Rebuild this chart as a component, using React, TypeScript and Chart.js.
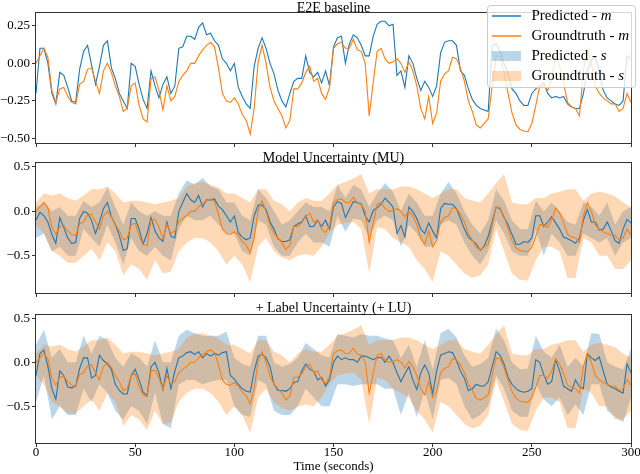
import React, { useEffect, useRef } from 'react';
import { Chart, registerables } from 'chart.js';

Chart.register(...registerables);

const FONT = '"Liberation Serif", "Times New Roman", serif';
const BLUE = '#1f77b4';
const ORANGE = '#ff7f0e';
const BLUE_FILL = 'rgba(31,119,180,0.3)';
const ORANGE_FILL = 'rgba(255,127,14,0.3)';

// time resolution (seconds) of the line series and of the band edges
const LINE_STEP = 2;
const BAND_STEP = 4;

const X_TICKS = [0, 50, 100, 150, 200, 250, 300];
const Y_TICKS_E2E = [-0.5, -0.25, 0, 0.25];
const Y_TICKS_UNC = [-0.5, 0, 0.5];

const TITLES = ['E2E baseline', 'Model Uncertainty (MU)', '+ Label Uncertainty (+ LU)'];
const X_LABEL = 'Time (seconds)';
const LEGEND = [
  { text: 'Predicted - ', sym: 'm', kind: 'line', color: BLUE },
  { text: 'Groundtruth - ', sym: 'm', kind: 'line', color: ORANGE },
  { text: 'Predicted - ', sym: 's', kind: 'patch', color: BLUE_FILL },
  { text: 'Groundtruth - ', sym: 's', kind: 'patch', color: ORANGE_FILL },
];

// Groundtruth m (shared by all panels), every 2 s
const GT_M = [
  0.0, 0.05, 0.10, 0.04, -0.18, -0.26, -0.17, -0.16, -0.22, -0.26,
  -0.27, -0.14, -0.12, -0.04, -0.03, -0.12, -0.2, -0.05, 0.0, -0.06,
  -0.15, -0.22, -0.32, -0.3, -0.15, -0.13, -0.28, -0.37, -0.39, -0.1,
  -0.09, -0.18, -0.31, -0.15, -0.25, -0.22, -0.12, -0.08, -0.05, 0.0,
  0.0, 0.05, 0.09, 0.12, 0.14, 0.11, -0.03, -0.2, -0.25, -0.26,
  -0.23, -0.27, -0.34, -0.38, -0.47, -0.3, 0.01, 0.12, 0.0, -0.16,
  -0.25, -0.3, -0.35, -0.43, -0.38, -0.17, -0.17, -0.13, -0.06, -0.02,
  -0.12, -0.1, -0.2, -0.24, -0.16, 0.1, 0.13, 0.14, 0.1, 0.1,
  0.16, 0.09, 0.08, 0.0, -0.35, -0.13, 0.08, 0.1, 0.03, 0.0,
  0.01, 0.03, 0.0, -0.06, 0.01, -0.05, -0.15, -0.3, -0.37, -0.22,
  -0.4, -0.33, -0.12, -0.07, -0.05, 0.04, 0.03, -0.03, -0.12, -0.25,
  -0.32, -0.41, -0.43, -0.4, -0.37, -0.15, 0.05, 0.04, -0.06, -0.2,
  -0.33, -0.41, -0.44, -0.45, -0.455, -0.4, -0.28, -0.15, -0.15, -0.18,
  -0.1, 0.04, -0.02, -0.13, -0.26, -0.29, -0.3, -0.35, -0.05, 0.1,
  0.0, -0.15, -0.2, -0.23, -0.25, -0.27, -0.27, -0.32, -0.3, -0.2,
  -0.26,
];

// E2E baseline predicted m, every 2 s
const E2E_M = [
  -0.2, 0.1, 0.1, 0.0, -0.2, -0.27, -0.06, -0.08, -0.16, -0.25,
  -0.26, -0.04, 0.08, 0.12, -0.01, -0.14, -0.02, 0.12, 0.15, -0.03,
  -0.1, -0.2, -0.25, -0.3, 0.0, -0.02, -0.14, -0.24, -0.3, -0.05,
  -0.15, -0.23, -0.14, -0.09, -0.2, -0.15, 0.1, 0.11, 0.18, 0.18,
  0.16, 0.24, 0.27, 0.19, 0.2, 0.15, 0.12, 0.03, 0.0, -0.05,
  0.0, -0.16, -0.22, -0.27, -0.3, -0.02, 0.1, 0.17, 0.1, 0.0,
  -0.07, -0.18, -0.25, -0.29, -0.2, -0.12, -0.1, -0.1, 0.05, -0.06,
  -0.09, -0.06, -0.13, -0.05, -0.15, 0.11, 0.17, 0.18, 0.0, 0.13,
  0.19, 0.17, 0.12, 0.05, 0.05, 0.18, 0.26, 0.28, 0.28, 0.25,
  0.26, -0.08, -0.05, -0.16, 0.05, 0.0, -0.1, -0.18, -0.12, -0.16,
  -0.22, -0.15, 0.07, 0.14, 0.15, 0.15, 0.12, -0.05, -0.08, -0.17,
  -0.24, -0.28, -0.3, -0.31, -0.32, 0.12, 0.13, 0.08, 0.0, -0.07,
  -0.17, -0.2, -0.25, -0.28, -0.28, -0.2, -0.17, -0.15, -0.13, -0.2,
  -0.23, -0.22, -0.23, -0.22, -0.27, -0.29, -0.3, -0.3, -0.2, -0.05,
  0.02, 0.04, -0.05, -0.18, -0.23, -0.25, -0.27, -0.28, -0.25, 0.05,
  0.03,
];

// MU predicted m, every 2 s
const MU_M = [
  -0.1, -0.01, -0.05, -0.12, -0.26, -0.36, -0.07, -0.18, -0.3, -0.36,
  -0.35, -0.08, 0.0, -0.02, -0.1, -0.25, -0.12, 0.03, 0.1, -0.06,
  -0.15, -0.27, -0.44, -0.42, -0.08, -0.08, -0.2, -0.37, -0.25, -0.07,
  -0.22, -0.3, -0.34, -0.12, -0.28, -0.3, 0.0, 0.1, 0.2, 0.13,
  0.1, 0.18, 0.05, 0.13, 0.13, 0.14, 0.06, 0.02, -0.05, -0.12,
  -0.05, -0.24, -0.29, -0.32, -0.3, -0.05, 0.07, 0.07, 0.02, -0.12,
  -0.2, -0.31, -0.34, -0.34, -0.32, -0.17, -0.14, -0.12, -0.05, -0.17,
  -0.17, -0.1, -0.17, -0.1, -0.2, 0.05, 0.11, 0.09, -0.07, 0.02,
  0.11, 0.1, 0.08, -0.05, -0.12, 0.01, 0.04, 0.08, 0.15, 0.1,
  0.05, -0.25, -0.16, -0.29, 0.05, 0.0, -0.08, -0.2, -0.25, -0.13,
  -0.22, -0.3, 0.03, 0.09, 0.08, 0.08, 0.03, -0.08, -0.2, -0.29,
  -0.33, -0.37, -0.44, -0.39, -0.28, -0.12, 0.05, 0.03, -0.07, -0.15,
  -0.26, -0.37, -0.37, -0.34, -0.35, -0.3, -0.05, -0.05, -0.17, -0.12,
  -0.06, -0.13, -0.2, -0.29, -0.31, -0.33, -0.36, -0.3, -0.1, 0.02,
  -0.12, -0.12, -0.21, -0.2, -0.12, -0.22, -0.33, -0.36, -0.2, -0.09,
  -0.13,
];

// +LU predicted m, every 2 s
const LU_M = [
  -0.15, 0.1, 0.14, -0.05, -0.3, -0.42, -0.1, -0.15, -0.28, -0.29,
  -0.27, -0.07, 0.05, 0.05, -0.18, -0.15, 0.08, 0.02, -0.02, -0.08,
  -0.25, -0.32, -0.36, -0.36, -0.15, -0.08, -0.2, -0.34, -0.38, -0.05,
  0.0, -0.12, -0.31, -0.07, -0.3, -0.1, 0.05, 0.07, 0.11, 0.12,
  0.09, 0.12, 0.05, 0.1, 0.07, 0.1, 0.08, 0.11, 0.12, -0.15,
  -0.19, -0.25, -0.3, -0.33, -0.34, -0.1, 0.07, 0.09, 0.05, -0.05,
  -0.25, -0.32, -0.32, -0.33, -0.3, -0.23, -0.22, -0.1, -0.02, -0.08,
  -0.1, -0.2, -0.17, -0.27, -0.2, 0.0, 0.07, 0.03, 0.05, 0.03,
  0.03, 0.0, 0.07, 0.07, 0.05, 0.03, 0.05, 0.06, 0.0, 0.07,
  0.0, -0.12, -0.22, -0.13, -0.05, -0.2, -0.31, -0.12, -0.03, -0.12,
  -0.36, -0.1, 0.08, 0.1, 0.12, 0.11, 0.02, -0.1, -0.18, -0.32,
  -0.3, -0.25, -0.27, -0.27, -0.22, -0.05, 0.12, 0.08, -0.02, -0.17,
  -0.25, -0.3, -0.33, -0.34, -0.33, -0.3, 0.03, 0.0, -0.14, -0.25,
  -0.22, 0.03, -0.1, -0.27, -0.3, -0.33, -0.2, -0.28, -0.3, 0.1,
  0.05, 0.02, 0.06, -0.1, -0.25, -0.28, -0.3, -0.33, -0.35, -0.02,
  -0.12,
];

// Groundtruth s band edges (shared), every 4 s
const GT_HI = [
  0.1, 0.2, 0.18, 0.2, 0.15, 0.12, 0.18, 0.25, 0.25, 0.28,
  0.2, 0.1, 0.12, 0.12, 0.1, 0.08, 0.1, 0.12, 0.15, 0.28,
  0.32, 0.33, 0.3, 0.27, 0.2, 0.2, 0.15, 0.1, 0.25, 0.25,
  0.12, 0.08, 0.0, 0.1, 0.15, 0.12, 0.12, 0.2, 0.3, 0.33,
  0.37, 0.42, 0.2, 0.25, 0.25, 0.25, 0.28, 0.28, 0.25, 0.2,
  0.15, 0.2, 0.25, 0.25, 0.15, 0.12, 0.1, 0.2, 0.32, 0.42,
  0.1, 0.08, 0.08, 0.15, 0.15, 0.2, 0.22, 0.25, 0.25, 0.12,
  0.2, 0.22, 0.2, 0.17, 0.1, 0.05,
];
const GT_LO = [
  -0.15, -0.25, -0.45, -0.5, -0.58, -0.58, -0.5, -0.42, -0.55, -0.35,
  -0.45, -0.72, -0.6, -0.65, -0.77, -0.55, -0.7, -0.68, -0.45, -0.35,
  -0.3, -0.3, -0.35, -0.45, -0.6, -0.5, -0.6, -0.8, -0.4, -0.3,
  -0.45, -0.52, -0.55, -0.5, -0.48, -0.5, -0.4, -0.25, -0.15, -0.13,
  -0.12, -0.2, -0.7, -0.18, -0.2, -0.3, -0.35, -0.4, -0.55, -0.65,
  -0.8, -0.45, -0.5, -0.6, -0.7, -0.75, -0.72, -0.6, -0.2, -0.45,
  -0.7, -0.77, -0.78, -0.55, -0.4, -0.4, -0.45, -0.75, -0.75, -0.3,
  -0.35, -0.5, -0.5, -0.65, -0.65, -0.55,
];

// MU predicted s band edges, every 4 s
const MU_HI = [
  0.05, 0.1, 0.0, 0.05, -0.05, -0.05, 0.12, 0.05, 0.1, 0.27,
  0.05, -0.15, 0.1, 0.0, -0.05, 0.0, -0.05, -0.05, 0.2, 0.35,
  0.3, 0.38, 0.28, 0.25, 0.1, 0.1, -0.05, -0.1, 0.25, 0.15,
  0.0, -0.15, -0.1, 0.0, 0.1, 0.05, 0.05, 0.0, 0.3, 0.15,
  0.3, 0.25, 0.05, 0.2, 0.32, 0.22, 0.0, 0.2, 0.1, -0.05,
  -0.05, 0.2, 0.33, 0.2, 0.0, -0.15, -0.25, -0.1, 0.25, 0.12,
  -0.1, -0.2, -0.2, 0.12, 0.0, 0.1, 0.0, -0.12, -0.15, 0.1,
  0.05, -0.05, 0.1, -0.15, 0.0, 0.05,
];
const MU_LO = [
  -0.3, -0.25, -0.45, -0.4, -0.5, -0.5, -0.2, -0.3, -0.4, -0.15,
  -0.35, -0.6, -0.3, -0.45, -0.5, -0.4, -0.5, -0.55, -0.2, -0.05,
  -0.1, -0.1, -0.05, -0.15, -0.25, -0.25, -0.45, -0.5, -0.1, -0.15,
  -0.4, -0.5, -0.5, -0.35, -0.25, -0.35, -0.35, -0.4, -0.05, -0.23,
  -0.08, -0.1, -0.3, -0.1, -0.05, -0.1, -0.4, -0.15, -0.25, -0.4,
  -0.4, -0.15, -0.1, -0.15, -0.35, -0.5, -0.6, -0.45, -0.1, -0.25,
  -0.45, -0.5, -0.5, -0.2, -0.5, -0.25, -0.35, -0.5, -0.5, -0.25,
  -0.3, -0.35, -0.3, -0.5, -0.35, -0.3,
];

// +LU predicted s band edges, every 4 s
const LU_HI = [
  0.2, 0.37, 0.05, 0.15, 0.0, 0.0, 0.3, 0.1, 0.3, 0.25,
  0.05, -0.05, 0.1, 0.05, -0.05, 0.25, 0.0, 0.0, 0.3, 0.37,
  0.33, 0.3, 0.3, 0.3, 0.35, 0.05, -0.02, -0.05, 0.3, 0.3,
  0.0, -0.05, -0.02, 0.05, 0.22, 0.15, 0.08, 0.05, 0.32, 0.3,
  0.28, 0.32, 0.3, 0.3, 0.27, 0.25, 0.05, 0.2, -0.05, 0.25,
  -0.08, 0.33, 0.38, 0.28, 0.08, -0.05, -0.02, 0.05, 0.38, 0.25,
  0.0, -0.08, -0.07, 0.3, 0.12, 0.05, 0.2, -0.05, 0.05, -0.05,
  0.33, 0.32, 0.0, -0.05, -0.08, 0.15,
];
const LU_LO = [
  -0.45, -0.15, -0.65, -0.5, -0.6, -0.6, -0.3, -0.45, -0.25, -0.35,
  -0.55, -0.65, -0.5, -0.55, -0.7, -0.35, -0.7, -0.75, -0.25, -0.2,
  -0.2, -0.25, -0.22, -0.2, -0.2, -0.5, -0.6, -0.62, -0.2, -0.25,
  -0.55, -0.6, -0.6, -0.5, -0.3, -0.4, -0.5, -0.5, -0.25, -0.25,
  -0.27, -0.25, -0.25, -0.25, -0.3, -0.3, -0.6, -0.35, -0.62, -0.32,
  -0.65, -0.2, -0.18, -0.25, -0.5, -0.65, -0.6, -0.5, -0.15, -0.3,
  -0.55, -0.62, -0.62, -0.25, -0.42, -0.5, -0.4, -0.6, -0.48, -0.6,
  -0.25, -0.25, -0.55, -0.62, -0.68, -0.4,
];

const toPts = (arr: number[], step: number) => arr.map((v, i) => ({ x: i * step, y: v }));

const lineDs = (arr: number[], color: string) => ({
  data: toPts(arr, LINE_STEP),
  borderColor: color,
  borderWidth: 1.1,
  pointRadius: 0,
  fill: false,
  tension: 0,
});

const bandDs = (hi: number[], lo: number[], color: string) => [
  { data: toPts(hi, BAND_STEP), borderColor: 'rgba(0,0,0,0)', borderWidth: 0, pointRadius: 0, backgroundColor: color, fill: '+1' },
  { data: toPts(lo, BAND_STEP), borderColor: 'rgba(0,0,0,0)', borderWidth: 0, pointRadius: 0, fill: false },
];

const fmt = (v: number, d: number) => {
  const s = Number(v).toFixed(d);
  return s.startsWith('-') ? '\u2212' + s.slice(1) : s;
};

type Spec = {
  top: number;
  height: number;
  padTop: number;
  xAxisH: number;
  yMin: number;
  yMax: number;
  yTicks: number[];
  dec: number;
  title: string;
  showX: boolean;
  legend: boolean;
  xLabel: boolean;
  datasets: any[];
};

const SPECS: Spec[] = [
  {
    top: 0, height: 150, padTop: 13, xAxisH: 7, yMin: -0.53, yMax: 0.335, yTicks: Y_TICKS_E2E, dec: 2,
    title: TITLES[0], showX: false, legend: true, xLabel: false,
    datasets: [lineDs(GT_M, ORANGE), lineDs(E2E_M, BLUE)],
  },
  {
    top: 150, height: 150, padTop: 13, xAxisH: 7, yMin: -0.92, yMax: 0.545, yTicks: Y_TICKS_UNC, dec: 1,
    title: TITLES[1], showX: false, legend: false, xLabel: false,
    datasets: [lineDs(GT_M, ORANGE), lineDs(MU_M, BLUE), ...bandDs(GT_HI, GT_LO, ORANGE_FILL), ...bandDs(MU_HI, MU_LO, BLUE_FILL)],
  },
  {
    top: 300, height: 174, padTop: 15, xAxisH: 31, yMin: -0.917, yMax: 0.537, yTicks: Y_TICKS_UNC, dec: 1,
    title: TITLES[2], showX: true, legend: false, xLabel: true,
    datasets: [lineDs(GT_M, ORANGE), lineDs(LU_M, BLUE), ...bandDs(GT_HI, GT_LO, ORANGE_FILL), ...bandDs(LU_HI, LU_LO, BLUE_FILL)],
  },
];

function decorPlugin(spec: Spec) {
  return {
    id: 'decor',
    afterDraw(chart: any) {
      const { ctx, chartArea: a } = chart;
      ctx.save();
      // frame
      ctx.strokeStyle = '#333';
      ctx.lineWidth = 1;
      ctx.strokeRect(a.left - 0.5, a.top - 0.5, a.right - a.left + 1, a.bottom - a.top + 1);
      // title
      ctx.fillStyle = '#000';
      ctx.font = `14px ${FONT}`;
      ctx.textAlign = 'center';
      ctx.textBaseline = 'alphabetic';
      ctx.fillText(spec.title, (a.left + a.right) / 2, 11.5);
      if (spec.xLabel) {
        ctx.font = `13px ${FONT}`;
        ctx.fillText(X_LABEL, (a.left + a.right) / 2, 169.5);
      }
      if (spec.legend) {
        const bx = 487.5, by = 5.5, bw = 148, bh = 82, r = 3;
        ctx.beginPath();
        ctx.moveTo(bx + r, by);
        ctx.lineTo(bx + bw - r, by);
        ctx.arcTo(bx + bw, by, bx + bw, by + r, r);
        ctx.lineTo(bx + bw, by + bh - r);
        ctx.arcTo(bx + bw, by + bh, bx + bw - r, by + bh, r);
        ctx.lineTo(bx + r, by + bh);
        ctx.arcTo(bx, by + bh, bx, by + bh - r, r);
        ctx.lineTo(bx, by + r);
        ctx.arcTo(bx, by, bx + r, by, r);
        ctx.closePath();
        ctx.fillStyle = 'rgba(255,255,255,0.8)';
        ctx.fill();
        ctx.strokeStyle = '#cccccc';
        ctx.lineWidth = 1;
        ctx.stroke();
        LEGEND.forEach((item, i) => {
          const cy = 16 + i * 20;
          if (item.kind === 'line') {
            ctx.strokeStyle = item.color;
            ctx.lineWidth = 1.5;
            ctx.beginPath();
            ctx.moveTo(492, cy);
            ctx.lineTo(521, cy);
            ctx.stroke();
          } else {
            ctx.fillStyle = item.color;
            ctx.fillRect(492, cy - 5, 29, 10);
          }
          ctx.fillStyle = '#000';
          ctx.textAlign = 'left';
          ctx.textBaseline = 'middle';
          ctx.font = `15px ${FONT}`;
          ctx.fillText(item.text, 531.5, cy);
          const w = ctx.measureText(item.text).width;
          ctx.font = `italic 15px ${FONT}`;
          ctx.fillText(item.sym, 531.5 + w, cy);
        });
      }
      ctx.restore();
    },
  };
}

function Panel({ spec }: { spec: Spec }) {
  const ref = useRef<HTMLCanvasElement>(null);
  useEffect(() => {
    if (!ref.current) return;
    const tickGrid = { drawOnChartArea: false, drawTicks: true, tickLength: 4, color: '#333', lineWidth: 1 };
    const chart = new Chart(ref.current, {
      type: 'line',
      data: { datasets: spec.datasets },
      options: {
        animation: false,
        responsive: false,
        events: [],
        layout: { padding: { top: spec.padTop, right: 9, left: 0, bottom: 0 } },
        plugins: {
          legend: { display: false },
          tooltip: { enabled: false },
          title: { display: false },
          filler: { drawTime: 'beforeDatasetsDraw', propagate: false },
        },
        scales: {
          x: {
            type: 'linear',
            min: 0,
            max: 300,
            afterBuildTicks: (s: any) => { s.ticks = X_TICKS.map((v) => ({ value: v })); },
            afterFit: (s: any) => { s.height = spec.xAxisH; s.paddingLeft = 0; s.paddingRight = 0; },
            grid: tickGrid,
            border: { display: false },
            ticks: {
              display: spec.showX,
              font: { family: FONT, size: 13 },
              color: '#000',
              padding: -2,
              maxRotation: 0,
              autoSkip: false,
              callback: (v: any) => String(v),
            },
          },
          y: {
            type: 'linear',
            min: spec.yMin,
            max: spec.yMax,
            afterBuildTicks: (s: any) => { s.ticks = spec.yTicks.map((v) => ({ value: v })); },
            afterFit: (s: any) => { s.width = 36; s.paddingTop = 0; s.paddingBottom = 0; },
            grid: tickGrid,
            border: { display: false },
            ticks: {
              font: { family: FONT, size: 13 },
              color: '#000',
              padding: 2,
              autoSkip: false,
              callback: (v: any) => fmt(v, spec.dec),
            },
          },
        },
      } as any,
      plugins: [decorPlugin(spec)],
    });
    return () => chart.destroy();
  }, [spec]);
  return (
    <canvas
      ref={ref}
      width={640}
      height={spec.height}
      style={{ position: 'absolute', left: 0, top: spec.top, width: 640, height: spec.height }}
    />
  );
}

export default function App() {
  return (
    <div style={{ position: 'absolute', left: 0, top: 0, width: 640, height: 474, background: '#fff' }}>
      {SPECS.map((s, i) => (
        <Panel key={i} spec={s} />
      ))}
    </div>
  );
}
